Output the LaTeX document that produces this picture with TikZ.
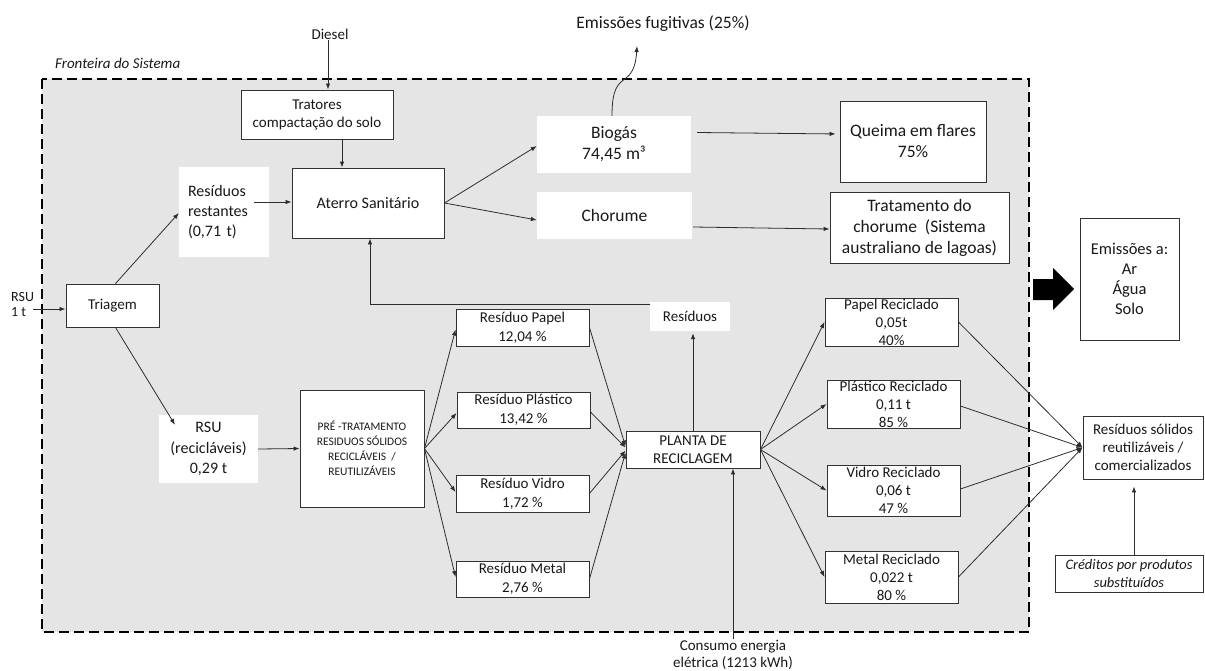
\documentclass[tikz,border=0pt]{standalone}
\usepackage{fontspec}
\setmainfont{Carlito}
\usetikzlibrary{arrows.meta,calc}
\definecolor{bgfill}{RGB}{229,229,229}
\definecolor{linec}{RGB}{45,45,45}
\definecolor{boxc}{RGB}{50,50,50}
\definecolor{txt}{RGB}{25,25,25}
\newcommand{\fsz}[2]{\fontsize{#1}{#2}\selectfont}
\tikzset{
  box/.style={draw=boxc, fill=white, line width=0.9pt, align=center, inner sep=0pt, text=txt},
  wbox/.style={fill=white, align=center, inner sep=0pt, text=txt},
  lbl/.style={align=center, inner sep=1pt, text=txt},
  ln/.style={draw=linec, line width=0.8pt},
  arr/.style={ln, -{Latex[length=6pt,width=4.5pt]}},
}
\begin{document}
\begin{tikzpicture}[x=1pt,y=1pt]
\useasboundingbox (0,0) rectangle (1205,-670);

% system boundary
\draw[fill=bgfill, line width=2pt, dash pattern=on 10pt off 5pt] (42,-79) rectangle (1029,-632);
\node[lbl, anchor=west, font=\fsz{15}{18}\itshape] (front) at (54,-63) {Fronteira do Sistema};

% outside labels
\node[lbl, font=\fsz{15}{18}] (diesel) at (330,-34) {Diesel};
\node[lbl, font=\fsz{17.5}{21}] (fug) at (663,-24) {Emissões fugitivas (25\%)};
\node[lbl, align=left, anchor=west, font=\fsz{14}{15}] (rsu) at (10,-305) {RSU\\1 t};
\node[lbl, font=\fsz{15}{16.5}] (cons) at (733,-655) {Consumo energia\\elétrica (1213 kWh)};

% landfill branch
\node[box, minimum width=152pt, minimum height=49pt, font=\fsz{15}{18}] (trat) at (317,-114.5) {Tratores\\compactação do solo};
\node[box, minimum width=152pt, minimum height=70pt, font=\fsz{16}{19}] (aterro) at (368,-203) {Aterro Sanitário};
\node[wbox, minimum height=90pt, text width=72pt, inner xsep=9pt, align=left, font=\fsz{16}{20}] (rest) at (224,-212) {Resíduos\\restantes\\(0,71 t)};
\node[box, minimum width=93pt, minimum height=43pt, font=\fsz{15}{18}] (triagem) at (112.5,-305.5) {Triagem};
\node[wbox, minimum width=154pt, minimum height=57pt, font=\fsz{17.5}{21}] (bio) at (614,-144.5) {Biogás\\74,45 m³};
\node[wbox, minimum width=155pt, minimum height=47pt, font=\fsz{17.5}{21}] (chor) at (614.5,-215.5) {Chorume};
\node[box, minimum width=146pt, minimum height=81pt, font=\fsz{17.5}{21}] (queima) at (913,-141.5) {Queima em flares\\75\%};
\node[box, minimum width=179pt, minimum height=71pt, font=\fsz{17.5}{21}] (tratch) at (919.5,-227.5) {Tratamento do\\chorume~ (Sistema\\australiano de lagoas)};

% recycling branch
\node[wbox, minimum width=99pt, minimum height=68pt, font=\fsz{16}{20.5}] (rsur) at (208.5,-449) {RSU\\(recicláveis)\\0,29 t};
\node[box, minimum width=124pt, minimum height=117pt, font=\fsz{11.5}{15}] (pre) at (362,-448.5) {PRÉ -TRATAMENTO\\RESIDUOS SÓLIDOS\\RECICLÁVEIS~ /\\REUTILIZÁVEIS};
\node[box, minimum width=133pt, minimum height=37pt, font=\fsz{15}{19}] (rp) at (522.5,-327.5) {Resíduo Papel\\12,04 \%};
\node[box, minimum width=133pt, minimum height=36pt, font=\fsz{15}{19}] (rpl) at (523.5,-410) {Resíduo Plástico\\13,42 \%};
\node[box, minimum width=133pt, minimum height=37pt, font=\fsz{15}{19}] (rv) at (522.5,-493.5) {Resíduo Vidro\\1,72 \%};
\node[box, minimum width=133pt, minimum height=36pt, font=\fsz{15}{19}] (rm) at (522.5,-579) {Resíduo Metal\\2,76 \%};
\node[box, minimum width=134pt, minimum height=37pt, font=\fsz{15}{18}] (planta) at (693,-449.5) {PLANTA DE\\RECICLAGEM};
\node[wbox, minimum width=80pt, minimum height=29pt, font=\fsz{15}{18}] (resid) at (690,-316.5) {Resíduos};
\node[box, minimum width=133pt, minimum height=48pt, font=\fsz{15}{18}] (pr) at (891.5,-322) {Papel Reciclado\\0,05t\\40\%};
\node[box, minimum width=133pt, minimum height=48pt, font=\fsz{15}{18}] (plr) at (893.5,-404) {Plástico Reciclado\\0,11 t\\85 \%};
\node[box, minimum width=133pt, minimum height=51pt, font=\fsz{15}{18}] (vr) at (893.5,-490.5) {Vidro Reciclado\\0,06 t\\47 \%};
\node[box, minimum width=133pt, minimum height=52pt, font=\fsz{15}{18}] (mr) at (891.5,-577) {Metal Reciclado\\0,022 t\\80 \%};

% outside the boundary
\node[box, minimum width=99pt, minimum height=122pt, font=\fsz{16.5}{20}] (emis) at (1129.5,-279) {Emissões a:\\Ar\\Água\\Solo};
\node[box, minimum width=120pt, minimum height=63pt, font=\fsz{15}{18}] (rsol) at (1143,-447.5) {Resíduos sólidos\\reutilizáveis /\\comercializados};
\node[box, minimum width=148pt, minimum height=37pt, font=\fsz{14.5}{18}\itshape] (cred) at (1129,-573.5) {Créditos por produtos\\substituídos};

% block arrow towards the emissions
\fill[black] (1033,-279) -- (1053,-279) -- (1053,-268) -- (1074,-289) -- (1053,-310) -- (1053,-300) -- (1033,-300) -- cycle;

% connectors: landfill
\coordinate (rsuin) at (33,-309);
\draw[arr] (rsuin) -- (rsuin -| triagem.west);
\draw[arr] ([xshift=3pt]triagem.north) -- ([yshift=-1pt]rest.west);
\draw[arr] ([xshift=3pt]triagem.south) -- ($(rsur.north)+(-33.5,-10)$);
\draw[arr] (diesel.south -| 328,0) -- (328,-89.5);
\draw[arr] ([xshift=25pt]trat.south) -- ([xshift=25pt]trat.south |- aterro.north);
\coordinate (restout) at (254,-202);
\draw[arr] (restout) -- (restout -| aterro.west);
\draw[arr] (aterro.east) -- ([yshift=-1.5pt]bio.west);
\draw[arr] (aterro.east) -- ([yshift=-4.5pt]chor.west);
\draw[arr, shorten >=4pt] ([xshift=6pt,yshift=12pt]bio.east) -- ([yshift=7.5pt]queima.west);
\draw[arr] ([xshift=1pt,yshift=-11.5pt]chor.east) -- ([yshift=-1.5pt]tratch.west);
\coordinate (fugtip) at (637,-46);
\draw[arr] ([xshift=-2pt]bio.north) .. controls (612,-88) and (618,-84) .. (626,-78) .. controls (634,-72) and (636,-62) .. (fugtip);

% connectors: recycling
\draw[arr] (rsur.east) -- (pre.west);
\draw[arr] (pre.east) -- ([yshift=-2pt]rp.west);
\draw[arr] (pre.east) -- ([yshift=-3pt]rpl.west);
\draw[arr] (pre.east) -- ([yshift=1.5pt]rv.west);
\draw[arr] (pre.east) -- ([yshift=2pt]rm.west);
\draw[arr] (rp.east) -- ([yshift=3pt]planta.west);
\draw[arr] ([yshift=-2pt]rpl.east) -- ([yshift=2pt]planta.west);
\draw[arr] (rv.east) -- ([yshift=-1pt]planta.west);
\draw[arr] (rm.east) -- ([yshift=-3pt]planta.west);
\draw[arr] (planta.north) -- ([yshift=-2pt]planta.north |- resid.south);
\draw[arr] ([yshift=12.5pt]resid.west) -| ([xshift=2pt]aterro.south);
\draw[arr] (cons.north) -- (cons.north |- planta.south);
\draw[arr] (planta.east) -- (pr.west);
\draw[arr] (planta.east) -- (plr.west);
\draw[arr] (planta.east) -- (vr.west);
\draw[arr] (planta.east) -- (mr.west);
\draw[arr] (pr.east) -- (rsol.west);
\draw[arr] ([yshift=-2pt]plr.east) -- (rsol.west);
\draw[arr] ([yshift=1.5pt]vr.east) -- (rsol.west);
\draw[arr] (mr.east) -- (rsol.west);
\draw[arr] ([xshift=5pt]cred.north) -- ($(cred.north |- rsol.south)+(5,-7)$);
\end{tikzpicture}
\end{document}
